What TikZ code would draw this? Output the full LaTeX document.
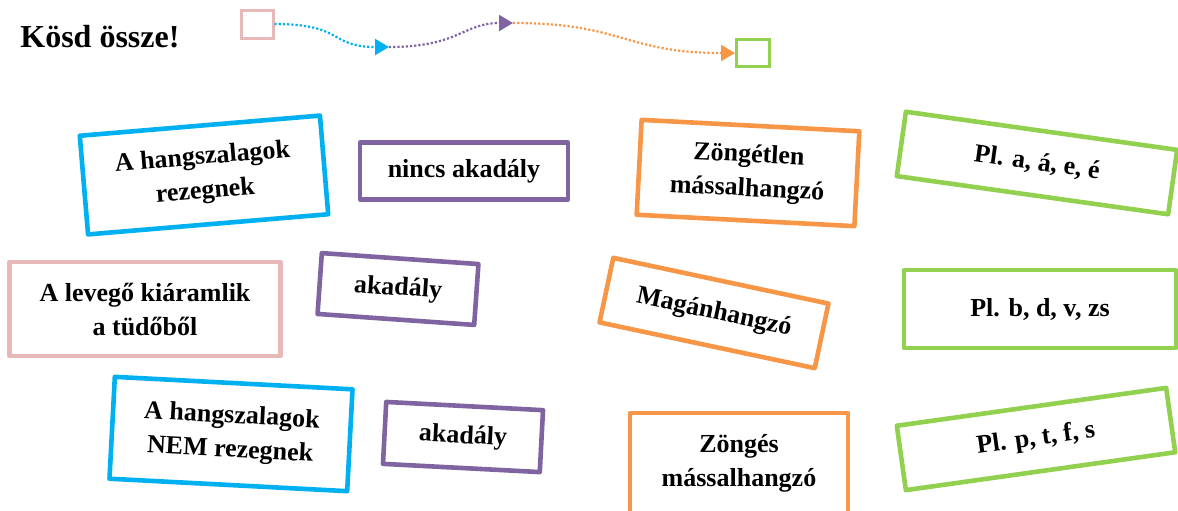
\documentclass[tikz,border=0pt]{standalone}
\usepackage{fontspec}
\setmainfont{Liberation Serif}
\usetikzlibrary{arrows.meta}
\definecolor{hblue}{HTML}{00B0F0}
\definecolor{hpurple}{HTML}{8064A2}
\definecolor{horange}{HTML}{F79646}
\definecolor{hgreen}{HTML}{92D050}
\definecolor{hpink}{HTML}{E6B9B8}
\newcommand{\cardfont}{\bfseries\fontsize{13}{17}\selectfont}
\tikzset{
  card/.style={draw, line width=2.3pt, line join=round, align=center,
    font=\cardfont, text=black, inner sep=0pt},
  legbox/.style={draw, line width=1.5pt, inner sep=0pt},
  legline/.style={line width=1.1pt, dash pattern=on 1.1pt off 1pt,
    -{Triangle[length=7pt,width=8pt]}}
}
\begin{document}
\begin{tikzpicture}[x=0.5pt, y=-0.5pt]
    \useasboundingbox (0,0) rectangle (1178,510);

    \node[anchor=base west, inner sep=0pt, font=\bfseries\fontsize{16}{18}\selectfont] (title) at (20,47) {Kösd össze!};

    \node[legbox, hpink, minimum width=16pt, minimum height=14pt] (legstart) at (257,24) {};
    \node[legbox, hgreen, minimum width=16.5pt, minimum height=13.5pt] (legend) at (753,53) {};
    \coordinate (legA) at (389,47);
    \coordinate (legB) at (513,23);
    \draw[legline, hblue] (legstart.east) .. controls +(70,0) and +(-60,0) .. (legA);
    \draw[legline, hpurple] (legA) .. controls +(70,0) and +(-50,0) .. (legB);
    \draw[legline, horange] (legB) .. controls +(110,0) and +(-110,0) .. (legend.west);

    \node[card, draw=hblue, minimum width=120.5pt, minimum height=49.5pt, rotate=4.8] (vibrate) at (204,175) {A hangszalagok\\rezegnek};
    \node[card, draw=hpurple, minimum width=104pt, minimum height=28.5pt] (free) at (464,171) {nincs akadály};
    \node[card, draw=horange, minimum width=109pt, minimum height=47.5pt, rotate=-3] (voiceless) at (748,173) {Zöngétlen\\mássalhangzó};
    \node[card, draw=hgreen, minimum width=137pt, minimum height=32.5pt, rotate=-8] (vowels) at (1037,163) {Pl. a, á, e, é};

    \node[card, draw=hpink, minimum width=135.5pt, minimum height=47pt] (air) at (145,309) {A levegő kiáramlik\\a tüdőből};
    \node[card, draw=hpurple, minimum width=78.5pt, minimum height=30.5pt, rotate=-4] (obstA) at (398,289) {akadály};
    \node[card, draw=horange, minimum width=110pt, minimum height=33pt, rotate=-12] (vowel) at (714,313) {Magánhangzó};
    \node[card, draw=hgreen, minimum width=136pt, minimum height=39pt] (voicedex) at (1040,309) {Pl. b, d, v, zs};

    \node[card, draw=hblue, minimum width=119pt, minimum height=51pt, rotate=-3] (novibrate) at (231,434) {A hangszalagok\\NEM rezegnek};
    \node[card, draw=hpurple, minimum width=78.5pt, minimum height=31pt, rotate=-3] (obstB) at (463,437) {akadály};
    \node[card, draw=horange, minimum width=109pt, minimum height=50pt] (voiced) at (739,463) {Zöngés\\mássalhangzó};
    \node[card, draw=hgreen, minimum width=136pt, minimum height=32.5pt, rotate=8] (voicelessex) at (1036,439) {Pl. p, t, f, s};
\end{tikzpicture}
\end{document}
